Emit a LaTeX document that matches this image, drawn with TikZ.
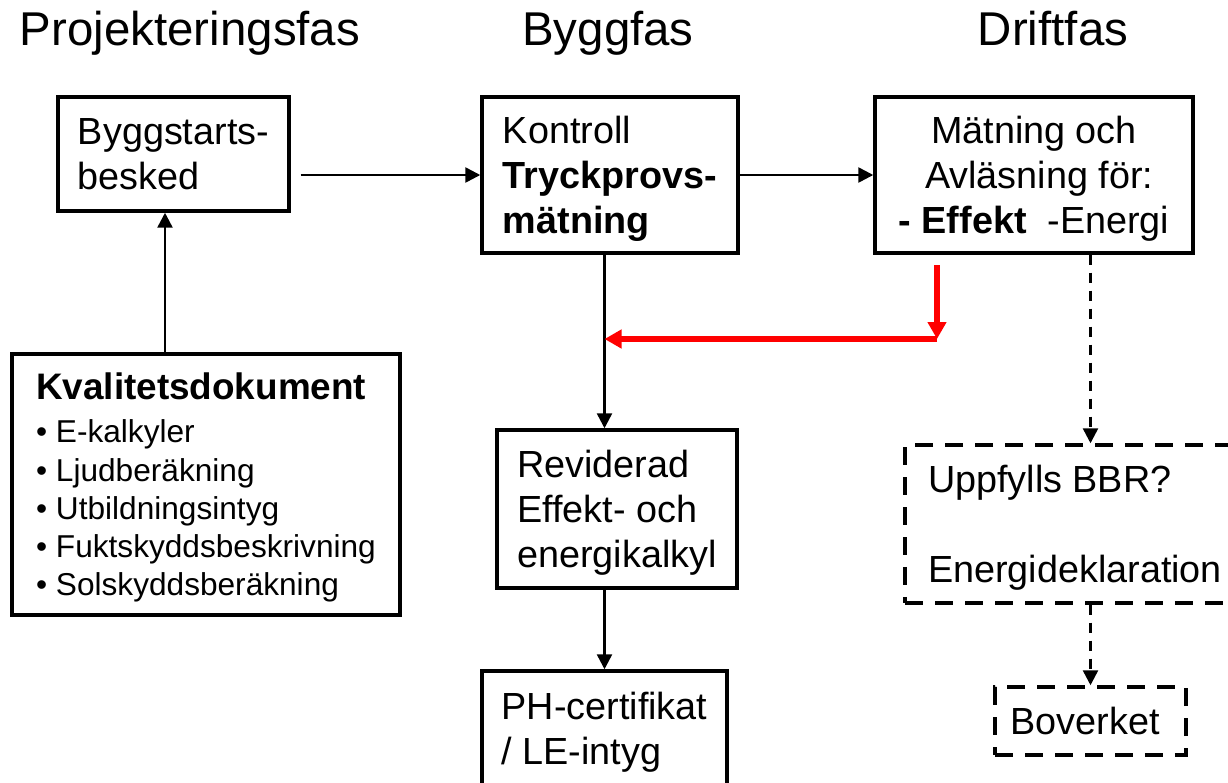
\documentclass[tikz,border=0pt]{standalone}
\usepackage{fontspec}
\setmainfont{Liberation Sans}
\usetikzlibrary{arrows.meta}

\tikzset{
  box/.style={draw, line width=0.7mm, inner ysep=0pt, text depth=0pt, align=left,
    font=\fontsize{21.5}{25.5}\selectfont},
  dashbox/.style={box, dash pattern=on 3.6mm off 2.4mm},
  arr/.style={-{Triangle[length=3mm,width=3mm]}, line width=0.5mm},
  dasharr/.style={arr, dash pattern=on 2mm off 1.6mm},
  redarr/.style={-{Triangle[length=3.4mm,width=3.6mm]}, line width=1.1mm, red},
  phase/.style={anchor=base, font=\fontsize{27}{31}\selectfont},
}

\begin{document}
\begin{tikzpicture}[x=0.02cm, y=-0.02cm]

    \useasboundingbox (0,0) rectangle (1228,782);
    \clip (0,0) rectangle (1228,782);

    % phases
    \node(proj) [phase] at (190,45) {Projekteringsfas};
    \node(bygg) [phase] at (608,45) {Byggfas};
    \node(drift) [phase] at (1053,45) {Driftfas};

    \node(start) [box, minimum width=4.62cm, minimum height=2.28cm] at (173.5,154) {
      Byggstarts-\\besked
    };

    \node(kontroll) [box, minimum width=5.12cm, minimum height=3.12cm] at (610,175) {
      Kontroll\\\textbf{Tryckprovs-}\\\textbf{mätning}
    };

    \node(matning) [box, minimum width=6.36cm, minimum height=3.12cm, align=center] at (1034,175) {
      Mätning och\\~Avläsning för:\\\textbf{- Effekt}~~-Energi
    };

    \node(kval) [box, minimum width=7.76cm, minimum height=5.22cm,
      font=\fontsize{18}{21.8}\selectfont] at (206,484.5) {
      {\fontsize{21}{25}\selectfont\bfseries Kvalitetsdokument}\\[2.6pt]
      \textbullet{} E-kalkyler\\
      \textbullet{} Ljudberäkning\\
      \textbullet{} Utbildningsintyg\\
      \textbullet{} Fuktskyddsbeskrivning\\
      \textbullet{} Solskyddsberäkning
    };

    \node(reviderad) [box, minimum width=4.8cm, minimum height=3.16cm] at (617,509) {
      Reviderad\\Effekt- och\\energikalkyl
    };

    \node(ph) [box, minimum width=4.9cm, minimum height=2.28cm] at (604.5,728) {
      PH-certifikat\\/ LE-intyg
    };

    \node(bbr) [dashbox, minimum width=6.8cm, minimum height=3.16cm] at (1075,524) {
      Uppfylls BBR?\\~\\Energideklaration
    };

    \node(boverket) [dashbox, minimum width=3.82cm, minimum height=1.36cm, align=center] at (1090.5,721) {
      Boverket
    };

    \draw[arr] ([xshift=0.2cm]start.east |- kontroll.west) to (kontroll.west);
    \draw[arr] (kontroll.east) to (matning.west);
    \draw[arr] ([xshift=-0.17cm]start.south |- kval.north) to ([xshift=-0.17cm]start.south);

    \draw[arr] (kontroll.south -| ph) to (reviderad.north -| ph);
    \draw[arr] (reviderad.south -| ph) to (ph.north);

    \draw[dasharr] (matning.south -| boverket) to (bbr.north -| boverket);
    \draw[dasharr] (bbr.south -| boverket) to (boverket.north);

    % red feedback
    \coordinate (redtop) at (937,265);
    \coordinate (redbend) at (937,339);
    \draw[redarr] (redtop) to (redbend);
    \draw[redarr] (redbend) to (redbend -| ph);

  \end{tikzpicture}
\end{document}
